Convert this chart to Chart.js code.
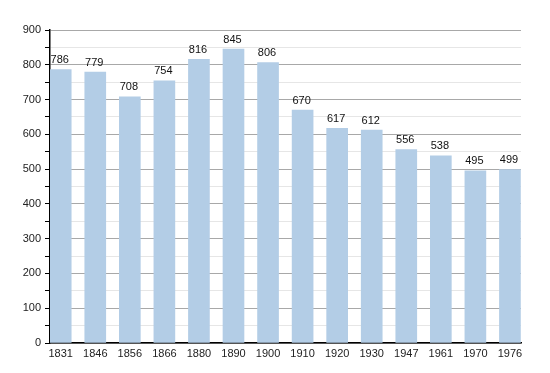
<!DOCTYPE html>
<html>
<head>
<meta charset="utf-8">
<script src="https://cdn.jsdelivr.net/npm/chart.js@4"></script>
<style>
    html, body { margin: 0; padding: 0; background: #fff; }
    #wrap { width: 550px; height: 373px; }
</style>
</head>
<body>
<div id="wrap"><canvas id="popChart"></canvas></div>
<script>
// Chart data
const years = ['1831', '1846', '1856', '1866', '1880', '1890', '1900', '1910', '1920', '1930', '1947', '1961', '1970', '1976'];
const population = [786, 779, 708, 754, 816, 845, 806, 670, 617, 612, 556, 538, 495, 499];

const FONT = '"Liberation Sans", Arial, sans-serif';

// Draws the value above each bar
const valueLabels = {
    id: 'valueLabels',
    afterDatasetsDraw(chart) {
        const ctx = chart.ctx;
        const meta = chart.getDatasetMeta(0);
        ctx.save();
        ctx.font = '11px ' + FONT;
        ctx.fillStyle = '#111';
        ctx.textAlign = 'center';
        ctx.textBaseline = 'bottom';
        meta.data.forEach((bar, i) => {
            ctx.fillText(population[i], bar.x - 1, bar.y - 4);
        });
        ctx.restore();
    }
};

const ctx = document.getElementById('popChart').getContext('2d');
new Chart(ctx, {
    type: 'bar',
    data: {
        datasets: [{
            data: population.map((v, i) => ({ x: i, y: v })),
            backgroundColor: 'rgb(179, 205, 230)',
            borderWidth: 0,
            barThickness: 21
        }]
    },
    options: {
        responsive: true,
        maintainAspectRatio: false,
        animation: false,
        layout: { padding: { top: 30, right: 29, bottom: 0, left: 0 } },
        plugins: {
            legend: { display: false },
            tooltip: { enabled: false }
        },
        scales: {
            x: {
                type: 'linear',
                offset: false,
                min: -0.31,
                max: 13.32,
                grid: { display: false, drawTicks: false },
                border: { color: '#000', width: 1.5 },
                afterBuildTicks: function (scale) {
                    scale.ticks = years.map((y, i) => ({ value: i }));
                },
                afterFit: function (scale) { scale.height = 30; },
                ticks: {
                    padding: 4,
                    color: '#222',
                    font: { family: FONT, size: 11 },
                    maxRotation: 0,
                    autoSkip: false,
                    callback: function (value) {
                        return years[value];
                    }
                }
            },
            y: {
                min: 0,
                max: 900,
                afterFit: function (scale) { scale.width = 50; },
                border: { color: '#000', width: 1.5 },
                grid: {
                    tickLength: 5,
                    color: function (c) {
                        return c.tick && c.tick.value % 100 === 0 ? '#a8a8a8' : '#e6e6e6';
                    },
                    tickColor: '#000'
                },
                ticks: {
                    stepSize: 50,
                    padding: 4,
                    color: '#222',
                    font: { family: FONT, size: 11 },
                    callback: function (value) {
                        return value % 100 === 0 ? value : '';
                    }
                }
            }
        }
    },
    plugins: [valueLabels]
});
</script>
</body>
</html>
